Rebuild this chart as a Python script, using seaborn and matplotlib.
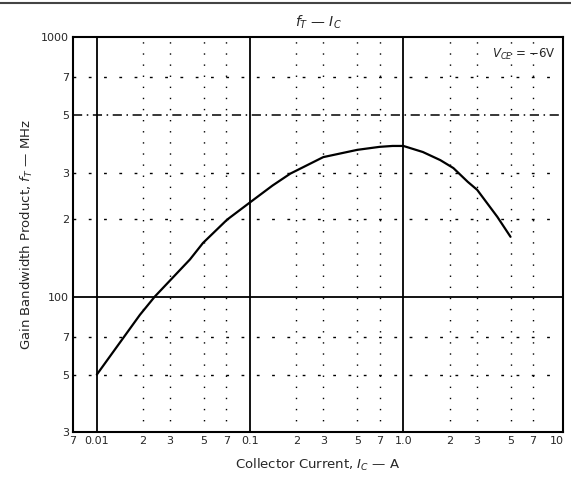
import matplotlib
matplotlib.use("Agg")
import matplotlib.pyplot as plt
import seaborn as sns
import pandas as pd

# f_T vs I_C curve
ic_amps = [0.01, 0.0191, 0.0239, 0.0405, 0.0493, 0.0708, 0.105, 0.14, 0.183, 0.30, 0.5, 0.7, 0.85,
           1.0, 1.34, 1.74, 2.12, 2.63, 3.03, 4.1, 5.0]
ft_mhz = [50, 85, 100, 139, 161, 198, 236, 268, 298, 345, 368, 378, 381,
          381, 361, 336, 313, 277, 258, 203, 170]

x_ticks = [0.007, 0.01, 0.02, 0.03, 0.05, 0.07, 0.1, 0.2, 0.3, 0.5, 0.7, 1.0, 2, 3, 5, 7, 10]
x_labels = ["7", "0.01", "2", "3", "5", "7", "0.1", "2", "3", "5", "7", "1.0", "2", "3", "5", "7", "10"]
y_ticks = [30, 50, 70, 100, 200, 300, 500, 700, 1000]
y_labels = ["3", "5", "7", "100", "2", "3", "5", "7", "1000"]

x_major = [0.01, 0.1, 1.0]
y_major = [100]
x_minor = [0.02, 0.03, 0.05, 0.07, 0.2, 0.3, 0.5, 0.7, 2, 3, 5, 7]
y_minor = [50, 70, 200, 300, 700]

df = pd.DataFrame({"ic": ic_amps, "ft": ft_mhz})

sns.set_style("white")
plt.rcParams["font.family"] = ["DejaVu Sans"]

fig = plt.figure(figsize=(5.71, 4.91), dpi=100)
ax = fig.add_axes([0.128, 0.120, 0.858, 0.804])

ax.set_xscale("log")
ax.set_yscale("log")
ax.set_xlim(0.007, 11)
ax.set_ylim(30, 1000)

# grid, datasheet style
for v in x_major:
    ax.axvline(v, color="black", lw=1.3, zorder=1)
for v in y_major:
    ax.axhline(v, color="black", lw=1.3, zorder=1)
ax.axhline(500, color="black", lw=1.1, ls=(0, (6, 3, 1, 3)), zorder=1)
for v in x_minor:
    ax.axvline(v, color="black", lw=1.0, ls=(0, (1, 7)), zorder=1)
for v in y_minor:
    ax.axhline(v, color="black", lw=1.0, ls=(0, (2, 9)), zorder=1)

sns.lineplot(data=df, x="ic", y="ft", ax=ax, color="black", lw=1.6, zorder=3)

ax.set_xticks(x_ticks)
ax.set_xticklabels(x_labels, fontsize=8)
ax.set_yticks(y_ticks)
ax.set_yticklabels(y_labels, fontsize=8)
ax.minorticks_off()
ax.tick_params(length=0, pad=3)

for s in ax.spines.values():
    s.set_color("black")
    s.set_linewidth(1.5)

ax.set_xlabel("Collector Current, $I_C$ \u2014 A", fontsize=9.5, labelpad=8)
ax.set_ylabel("Gain Bandwidth Product, $f_T$ \u2014 MHz", fontsize=9.5, labelpad=4)
ax.text(0.5, 1.015, "$f_T$ \u2014 $I_C$", transform=ax.transAxes, ha="center",
        va="bottom", fontsize=10)
ax.text(0.985, 0.975, "$V_{CE}$ = \u22126V", transform=ax.transAxes, ha="right",
        va="top", fontsize=8.5)

# page border line at the very top
fig.add_artist(plt.Line2D([0, 1], [0.993, 0.993], color="#444444", lw=1.5,
                          transform=fig.transFigure))

fig.savefig("out.png", dpi=100)
